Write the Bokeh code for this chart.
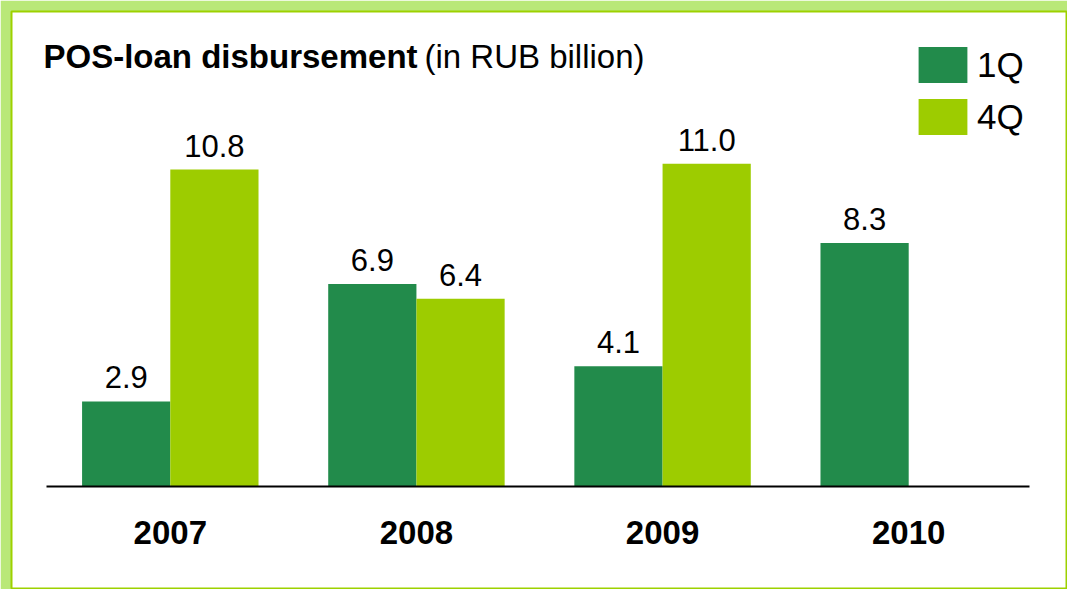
from bokeh.plotting import figure
from bokeh.models import (FactorRange, Range1d, ColumnDataSource, Label,
                          BoxAnnotation, Legend, LegendItem)
from bokeh.core.properties import value
from bokeh.embed import file_html
from bokeh.resources import INLINE

# ---- data ----
years = ["2007", "2008", "2009", "2010"]
quarters = ["1Q", "4Q"]
q1_values = [2.9, 6.9, 4.1, 8.3]
q4_values = [10.8, 6.4, 11.0, None]
title_bold = "POS-loan disbursement"
title_unit = "(in RUB billion)"

DARK = "#228b4b"
LIGHT = "#9dcc00"
FONT = "Liberation Sans"

factors = [(y, q) for y in years for q in quarters]

p = figure(width=1067, height=589,
           x_range=FactorRange(*factors, group_padding=0.79,
                               range_padding=0.8, range_padding_units="absolute"),
           y_range=Range1d(-3.475, 16.184),
           output_backend="svg", toolbar_location=None,
           x_axis_location=None, y_axis_location=None,
           min_border_left=11, min_border_top=11, min_border_right=0, min_border_bottom=1,
           border_fill_color="#b9e878", background_fill_color="white",
           outline_line_color="#9dd100", outline_line_width=2)
p.grid.visible = False

def series(vals, q):
    xs, tops = [], []
    for y, v in zip(years, vals):
        if v is not None:
            xs.append((y, q))
            tops.append(v)
    return ColumnDataSource(dict(x=xs, top=tops, label=[f"{v:.1f}" for v in tops]))

src1 = series(q1_values, "1Q")
src4 = series(q4_values, "4Q")

r1 = p.vbar(x="x", top="top", bottom=0, width=1.0, source=src1,
            fill_color=DARK, line_color=None)
r4 = p.vbar(x="x", top="top", bottom=0, width=1.0, source=src4,
            fill_color=LIGHT, line_color=None)

for src in (src1, src4):
    p.text(x="x", y="top", text="label", source=src, text_align="center",
           text_baseline="alphabetic", y_offset=-24,
           text_font=value(FONT), text_font_size="31px", text_color="black")

ysrc = ColumnDataSource(dict(x=years, y=[0] * len(years), t=years))
p.text(x="x", y="y", text="t", source=ysrc, text_align="center",
       text_baseline="alphabetic", y_offset=46,
       text_font=value(FONT), text_font_size="33px", text_font_style="bold",
       text_color="black")

# baseline
p.add_layout(BoxAnnotation(left=35, right=1018, left_units="screen", right_units="screen",
                           top=0, bottom=0, fill_alpha=0, line_color="black",
                           line_alpha=1, line_width=2))

# title
p.add_layout(Label(x=32, y=532, x_units="screen", y_units="screen", text=title_bold,
                   text_font=FONT, text_font_style="bold", text_font_size="33px",
                   text_baseline="alphabetic", text_color="black"))
p.add_layout(Label(x=413, y=532, x_units="screen", y_units="screen", text=title_unit,
                   text_font=FONT, text_font_size="33px",
                   text_baseline="alphabetic", text_color="black"))

legend = Legend(items=[LegendItem(label="1Q", renderers=[r1]),
                       LegendItem(label="4Q", renderers=[r4])],
                location=(901, 449), orientation="vertical",
                glyph_width=61, glyph_height=45, spacing=7, padding=0, margin=0,
                border_line_color=None, background_fill_alpha=0,
                label_text_font=FONT, label_text_font_size="35px",
                label_standoff=4, label_text_color="black")
p.add_layout(legend)

open("out.html", "w").write(file_html(p, INLINE))
